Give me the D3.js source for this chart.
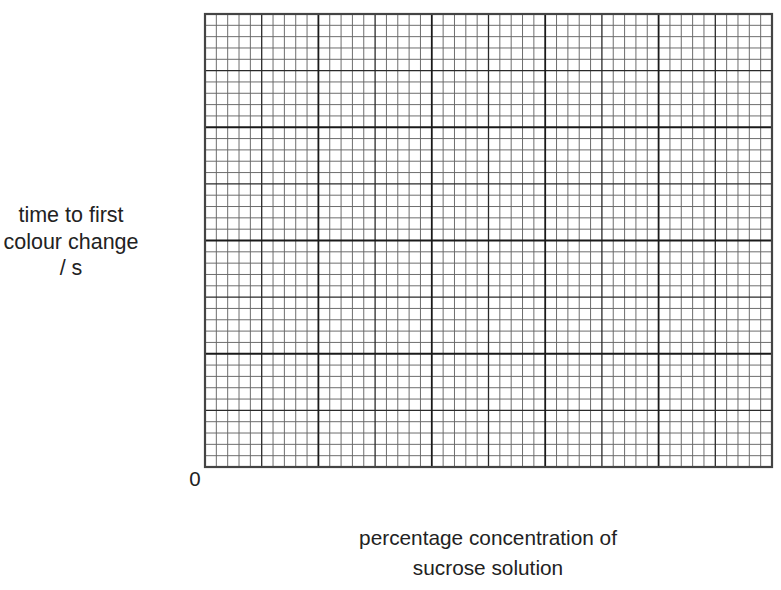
<!DOCTYPE html>
<html>
<head>
<meta charset="utf-8">
<script src="https://cdn.jsdelivr.net/npm/d3@7"></script>
<style>
  body { margin: 0; background: #fff; }
  text { font-family: "Liberation Sans", Arial, Helvetica, sans-serif; fill: #222; }
</style>
</head>
<body>
<div class="canvas"></div>
<script>
// grid of small squares: 50 across, 40 up, bold every 10, medium every 5
const xCells = 50;
const yCells = 40;
const majorEvery = 10;
const mediumEvery = 5;
const originLabel = ['0'];
const yLabelLines = ['time to first', 'colour change', '/ s'];
const xLabelLines = ['percentage concentration of', 'sucrose solution'];

const width = 781, height = 590;
const plot = { left: 205, right: 772, top: 14, bottom: 467 };

const svg = d3.select('.canvas')
  .append('svg')
  .attr('width', width)
  .attr('height', height);

const x = d3.scaleLinear().domain([0, xCells]).range([plot.left, plot.right]);
const y = d3.scaleLinear().domain([0, yCells]).range([plot.bottom, plot.top]);

function lineStyle(i) {
  if (i % majorEvery === 0) return { stroke: '#1a1a1a', w: 1.8 };
  if (i % mediumEvery === 0) return { stroke: '#2a2a2a', w: 1.3 };
  return { stroke: '#666', w: 0.95 };
}

const grid = svg.append('g').attr('class', 'grid');

// draw minor first, then medium, then major on top
const order = i => (i % majorEvery === 0 ? 2 : i % mediumEvery === 0 ? 1 : 0);

const vIdx = d3.range(1, xCells);
const hIdx = d3.range(1, yCells);

[0, 1, 2].forEach(level => {
  grid.selectAll(null)
    .data(vIdx.filter(i => order(i) === level))
    .enter().append('line')
    .attr('x1', d => x(d)).attr('x2', d => x(d))
    .attr('y1', y(0)).attr('y2', y(yCells))
    .attr('stroke', d => lineStyle(d).stroke)
    .attr('stroke-width', d => lineStyle(d).w);

  grid.selectAll(null)
    .data(hIdx.filter(i => order(i) === level))
    .enter().append('line')
    .attr('x1', x(0)).attr('x2', x(xCells))
    .attr('y1', d => y(d)).attr('y2', d => y(d))
    .attr('stroke', d => lineStyle(d).stroke)
    .attr('stroke-width', d => lineStyle(d).w);
});

// outer frame
grid.append('rect')
  .attr('x', x(0)).attr('y', y(yCells))
  .attr('width', x(xCells) - x(0))
  .attr('height', y(0) - y(yCells))
  .attr('fill', 'none')
  .attr('stroke', '#444')
  .attr('stroke-width', 2.2);

// origin
svg.append('text')
  .attr('x', x(0) - 10)
  .attr('y', y(0) + 19)
  .attr('text-anchor', 'middle')
  .style('font-size', '20.5px')
  .text(originLabel[0]);

// y axis label
svg.append('text')
  .attr('text-anchor', 'middle')
  .style('font-size', '21.5px')
  .selectAll('tspan')
  .data(yLabelLines)
  .enter().append('tspan')
  .attr('x', 71)
  .attr('y', (d, i) => 222 + i * 26.5)
  .text(d => d);

// x axis label
svg.append('text')
  .attr('text-anchor', 'middle')
  .style('font-size', '20.8px')
  .selectAll('tspan')
  .data(xLabelLines)
  .enter().append('tspan')
  .attr('x', 488)
  .attr('y', (d, i) => 545 + i * 30)
  .text(d => d);
</script>
</body>
</html>
